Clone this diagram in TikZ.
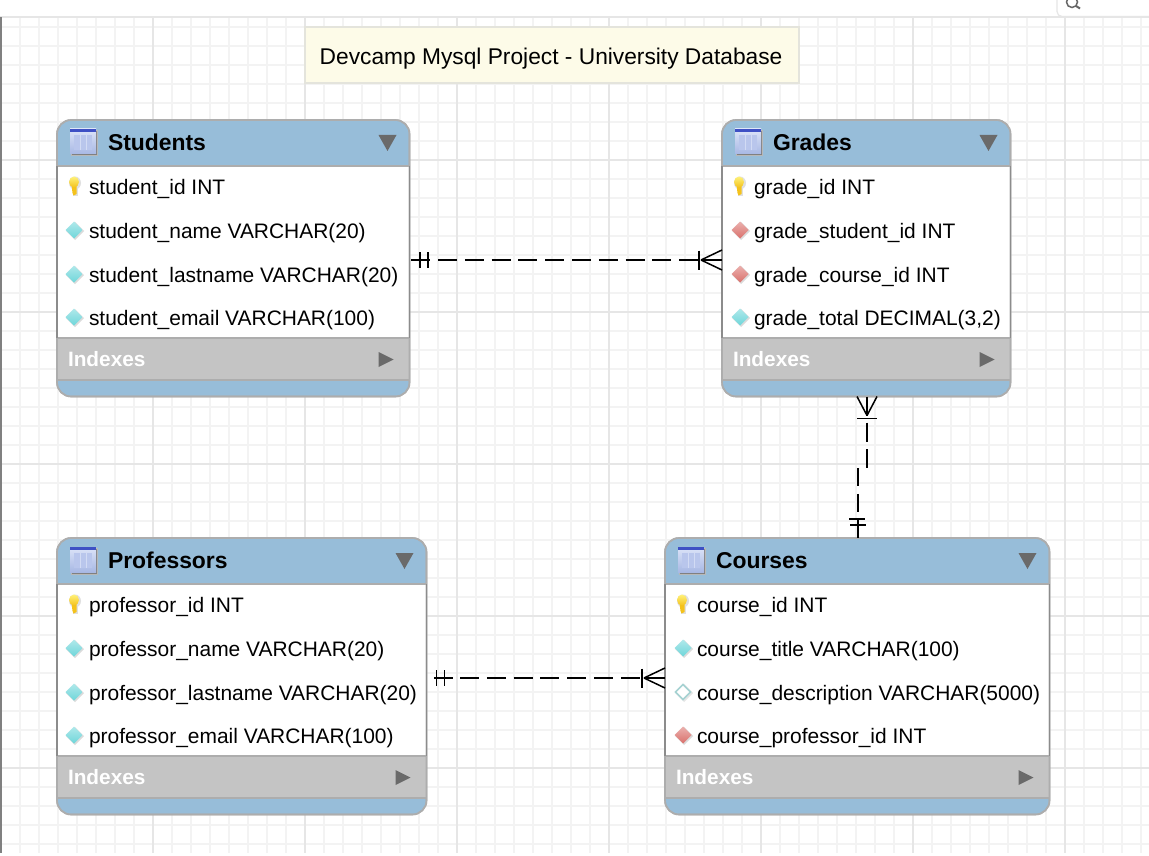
\documentclass[tikz,border=0pt]{standalone}
\usepackage{fontspec}
\setmainfont{Liberation Sans}
\usetikzlibrary{calc}
\definecolor{hdr}{HTML}{97BDD9}
\definecolor{edge}{HTML}{ADADAD}
\definecolor{sideedge}{HTML}{8C8C8C}
\definecolor{idx}{HTML}{C4C4C4}
\definecolor{gridmin}{HTML}{F3F3F3}
\definecolor{gridmaj}{HTML}{E6E6E6}
\definecolor{notefill}{HTML}{FDFBE8}
\definecolor{noteedge}{HTML}{E4E4DC}
\definecolor{arrowgray}{HTML}{6A6A6A}
\definecolor{gemcyan}{HTML}{6FD6DA}
\definecolor{gemred}{HTML}{DA716C}
\definecolor{gemrim}{HTML}{A6D2D2}
\definecolor{iconbody}{HTML}{DCE4F8}
\definecolor{iconlow}{HTML}{A8B8E4}
\definecolor{iconband}{HTML}{3E50C4}
\definecolor{iconcol}{HTML}{B9C6EC}
\definecolor{keytop}{HTML}{FFF27A}
\definecolor{keylow}{HTML}{F4C21C}
\tikzset{
  tablebox/.style={rectangle,rounded corners=14pt,fill=hdr,draw=edge,line width=1.6pt,inner sep=0pt,outer sep=0pt},
  rowtext/.style={anchor=base west,inner sep=0pt,outer sep=0pt,font=\fontsize{20.95}{24}\selectfont,text=black},
  titletext/.style={anchor=base west,inner sep=0pt,outer sep=0pt,font=\fontsize{22.9}{26}\selectfont\bfseries,text=black},
  idxtext/.style={anchor=base west,inner sep=0pt,outer sep=0pt,font=\fontsize{20.8}{24}\selectfont\bfseries,text=white},
  rel/.style={line width=1.5pt,black},
  reldash/.style={rel,dash pattern=on 19pt off 7.8pt},
}
\newcommand{\ergem}[3]{%
  \fill[black!14] (#1+1,#2-8) -- (#1+10,#2+1) -- (#1+1,#2+10) -- (#1-8,#2+1) -- cycle;
  \shade[top color=#3!55!white,bottom color=#3] (#1,#2-8.5) -- (#1+8.5,#2) -- (#1,#2+8.5) -- (#1-8.5,#2) -- cycle;
}
\newcommand{\erkey}[2]{%
  \fill[black!12] (#1+1,#2-3) ellipse[x radius=6,y radius=6.5];
  \fill[black!12] (#1-1,#2) rectangle (#1+4,#2+10);
  \fill[keylow] (#1-2.5,#2-1) -- (#1+2.5,#2-1) -- (#1+2.5,#2+8) -- (#1-0.5,#2+9.5) -- (#1-1.5,#2+7) -- cycle;
  \shade[top color=keytop,bottom color=keylow] (#1,#2-4) ellipse[x radius=5,y radius=5.5];
}
\newcommand{\erhollow}[2]{%
  \fill[black!10] (#1+1,#2-8) -- (#1+10,#2+1) -- (#1+1,#2+10) -- (#1-8,#2+1) -- cycle;
  \draw[line width=1.6pt,draw=gemrim,fill=white] (#1,#2-7.5) -- (#1+7.5,#2) -- (#1,#2+7.5) -- (#1-7.5,#2) -- cycle;
}
\newcommand{\ertableicon}[2]{%
  \fill[black!28] (#1+1,#2+1) rectangle (#1+28,#2+27.5);
  \fill[black!50] (#1+2,#2+2) rectangle (#1+27,#2+26.5);
  \shade[top color=iconbody,bottom color=iconlow] (#1,#2) rectangle (#1+26,#2+25);
  \fill[iconcol] (#1+4,#2+6) rectangle (#1+22,#2+21);
  \fill[iconband] (#1,#2) rectangle (#1+26,#2+3);
  \foreach \ii in {10,16}{\draw[line width=1pt,iconbody!70!iconcol] (#1+\ii,#2+6) -- (#1+\ii,#2+21);}
}
\newcommand{\ertable}[5]{%
  \node[tablebox,minimum width={(#4-#2)*1pt},minimum height=276.5pt] (#1) at ({(#2+#4)/2},{#3+138.25}) {};
  \fill[white] (#2,#3+46) rectangle (#4,#3+218);
  \fill[idx] (#2,#3+218) rectangle (#4,#3+260);
  \draw[edge,line width=1.4pt] (#2,#3+46) -- (#4,#3+46) (#2,#3+218) -- (#4,#3+218) (#2,#3+260) -- (#4,#3+260);
  \draw[edge,line width=1.6pt,rounded corners=14pt] (#1.north west) rectangle (#1.south east);
  \draw[sideedge,line width=1.6pt] (#2,#3+46) -- (#2,#3+218) (#4,#3+46) -- (#4,#3+218);
  \ertableicon{#2+13}{#3+9}
  \node[titletext] (#1title) at (#2+51,#3+30) {#5};
  \fill[arrowgray] (#4-31,#3+15) -- (#4-13,#3+15) -- (#4-22,#3+31) -- cycle;
  \node[idxtext] (#1idx) at (#2+11,#3+246) {Indexes};
  \fill[arrowgray] (#4-31,#3+232) -- (#4-16,#3+239.5) -- (#4-31,#3+247) -- cycle;
}
\newcommand{\errow}[5]{\node[rowtext] (#1r#2) at (#3+32,#4+7) {#5};}
\begin{document}
\begin{tikzpicture}[x=1pt,y=-1pt]
\useasboundingbox (0,0) rectangle (1149,856);
\fill[white] (0,0) rectangle (1149,856);
\foreach \xx in {20,39,...,1149}{\draw[gridmin,line width=1.4pt] (\xx,17) -- (\xx,853);}
\foreach \yy in {27,46,...,853}{\draw[gridmin,line width=1.4pt] (0,\yy) -- (1149,\yy);}
\foreach \xx in {153,305,...,1149}{\draw[gridmaj,line width=1.4pt] (\xx,17) -- (\xx,853);}
\foreach \yy in {160,312,464,616,768}{\draw[gridmaj,line width=1.4pt] (0,\yy) -- (1149,\yy);}
\draw[gridmaj,line width=1.2pt] (0,17) -- (1149,17);
\fill[black!50] (0,17) rectangle (2,853);
\draw[gridmaj,line width=1.2pt,fill=white,rounded corners=5pt] (1057,-10) -- (1057,16.5) -- (1160,16.5) -- (1160,-10) -- cycle;
\draw[black!60,line width=1.5pt] (1072,2) circle[radius=5.5];
\draw[black!60,line width=2pt] (1076,6) -- (1080,8.5);
\node[rectangle,fill=notefill,draw=noteedge,line width=1.4pt,minimum width=494pt,minimum height=56pt,inner sep=0pt,outer sep=0pt] (note) at (552,55) {};
\node[anchor=base west,inner sep=0pt,font=\fontsize{22.75}{26}\selectfont] (notetext) at (319.5,65) {Devcamp Mysql Project - University Database};
\ertable{students}{57}{120}{409.5}{Students}
\ertable{grades}{722}{120}{1010.5}{Grades}
\ertable{professors}{57}{538}{426.5}{Professors}
\ertable{courses}{665}{538}{1049.5}{Courses}
\erkey{74}{186}
\errow{students}{1}{57}{187}{student\_id INT}
\ergem{74}{230}{gemcyan}
\errow{students}{2}{57}{231}{student\_name VARCHAR(20)}
\ergem{74}{274}{gemcyan}
\errow{students}{3}{57}{275}{student\_lastname VARCHAR(20)}
\ergem{74}{317}{gemcyan}
\errow{students}{4}{57}{318}{student\_email VARCHAR(100)}
\erkey{739}{186}
\errow{grades}{1}{722}{187}{grade\_id INT}
\ergem{740}{230}{gemred}
\errow{grades}{2}{722}{231}{grade\_student\_id INT}
\ergem{740}{274}{gemred}
\errow{grades}{3}{722}{275}{grade\_course\_id INT}
\ergem{740}{317}{gemcyan}
\errow{grades}{4}{722}{318}{grade\_total DECIMAL(3,2)}
\erkey{74}{604}
\errow{professors}{1}{57}{605}{professor\_id INT}
\ergem{74}{648}{gemcyan}
\errow{professors}{2}{57}{649}{professor\_name VARCHAR(20)}
\ergem{74}{692}{gemcyan}
\errow{professors}{3}{57}{693}{professor\_lastname VARCHAR(20)}
\ergem{74}{735}{gemcyan}
\errow{professors}{4}{57}{736}{professor\_email VARCHAR(100)}
\erkey{682}{604}
\errow{courses}{1}{665}{605}{course\_id INT}
\ergem{683}{648}{gemcyan}
\errow{courses}{2}{665}{649}{course\_title VARCHAR(100)}
\erhollow{683}{692}
\errow{courses}{3}{665}{693}{course\_description VARCHAR(5000)}
\ergem{683}{735}{gemred}
\errow{courses}{4}{665}{736}{course\_professor\_id INT}
% connectors
\coordinate (sgA) at ($(students.north east)+(1.5,140)$);
\coordinate (sgB) at ($(grades.north west)+(0,140)$);
\draw[rel] (sgA) -- ++(19,0);
\draw[rel] ($(sgA)+(9,-8)$) -- ++(0,16);
\draw[rel] ($(sgA)+(17,-8)$) -- ++(0,16);
\draw[reldash] ($(sgA)+(27,0)$) -- ($(sgB)+(-22,0)$);
\draw[rel] ($(sgB)+(-23,-9.5)$) -- ++(0,19);
\draw[rel] ($(sgB)+(-21,0)$) -- ++(21,-10);
\draw[rel] ($(sgB)+(-21,0)$) -- ++(21,10);
\draw[rel] ($(sgB)+(-21,0)$) -- (sgB);
\coordinate (pcA) at ($(professors.north east)+(7.5,140)$);
\coordinate (pcB) at ($(courses.north west)+(0,140)$);
\draw[rel] (pcA) -- ++(19,0);
\draw[rel] ($(pcA)+(2.5,-8)$) -- ++(0,16);
\draw[rel] ($(pcA)+(10.5,-8)$) -- ++(0,16);
\draw[reldash] ($(pcA)+(26,0)$) -- ($(pcB)+(-22,0)$);
\draw[rel] ($(pcB)+(-23,-9.5)$) -- ++(0,19);
\draw[rel] ($(pcB)+(-21,0)$) -- ++(21,-10);
\draw[rel] ($(pcB)+(-21,0)$) -- ++(21,10);
\draw[rel] ($(pcB)+(-21,0)$) -- (pcB);
\coordinate (gcA) at ($(grades.south west)+(145,0)$);
\coordinate (gcB) at ($(courses.north west)+(193,0)$);
\draw[rel] (gcA) -- ++(0,19);
\draw[rel] ($(gcA)+(-10,0)$) -- ($(gcA)+(0,19)$);
\draw[rel] ($(gcA)+(10,0)$) -- ($(gcA)+(0,19)$);
\draw[rel] ($(gcA)+(-10,22)$) -- ++(20,0);
\draw[reldash] ($(gcA)+(0,26)$) -- ($(gcA)+(0,72)$) -| ($(gcB)+(0,-26)$);
\draw[rel] ($(gcB)+(-9,-19)$) -- ++(16,0);
\draw[rel] ($(gcB)+(-8,-13)$) -- ++(16,0);
\draw[rel] ($(gcB)+(0,-19)$) -- (gcB);
\end{tikzpicture}
\end{document}
